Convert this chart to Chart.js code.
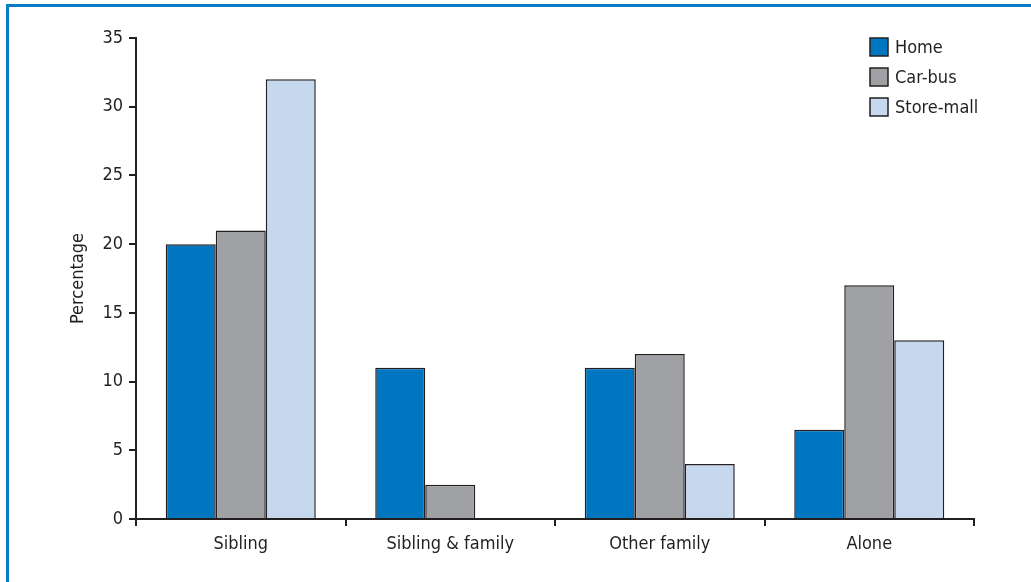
<!DOCTYPE html>
<html>
<head>
<meta charset="utf-8">
<script src="https://cdn.jsdelivr.net/npm/chart.js@4.4.0/dist/chart.umd.min.js"></script>
<style>
    html, body { margin: 0; padding: 0; background: #fff; }
    #wrap { position: relative; width: 1031px; height: 582px; }
    #frame {
        position: absolute; left: 6px; top: 4px; right: 0; bottom: 0;
        border-top: 3px solid #0a7bc6; border-left: 3px solid #0a7bc6;
        pointer-events: none;
    }
    canvas { position: absolute; left: 0; top: 0; }
</style>
</head>
<body>
<div id="wrap">
    <canvas id="chart" width="1031" height="582"></canvas>
    <div id="frame"></div>
</div>
<script>
// Datos del gráfico
const categories = ['Sibling', 'Sibling & family', 'Other family', 'Alone'];
const seriesNames = ['Home', 'Car-bus', 'Store-mall'];
const homeValues = [20, 11, 11, 6.5];
const carBusValues = [21, 2.5, 12, 17];
const storeMallValues = [32, 0, 4, 13];
const yTicks = [0, 5, 10, 15, 20, 25, 30, 35];

const colors = ['#0076c0', '#a0a1a5', '#c6d8ee'];
const ink = '#231f20';
const fontFamily = "'Liberation Sans Narrow', 'DejaVu Sans Condensed', 'Roboto', sans-serif";

// Leyenda vertical dentro del área del gráfico
const boxLegend = {
    id: 'boxLegend',
    afterDraw(chart) {
        const ctx = chart.ctx;
        ctx.save();
        chart.data.datasets.forEach((ds, i) => {
            const x = 870, y = 38 + i * 30;
            ctx.fillStyle = ds.backgroundColor;
            ctx.fillRect(x, y, 18, 18);
            ctx.strokeStyle = ink;
            ctx.lineWidth = 1.5;
            ctx.strokeRect(x, y, 18, 18);
            ctx.fillStyle = ink;
            ctx.font = '18px ' + fontFamily;
            ctx.textBaseline = 'middle';
            ctx.fillText(ds.label, x + 25, y + 10);
        });
        ctx.restore();
    }
};

const seriesData = [homeValues, carBusValues, storeMallValues];

new Chart(document.getElementById('chart').getContext('2d'), {
    type: 'bar',
    data: {
        labels: categories,
        datasets: seriesNames.map((name, i) => ({
            label: name,
            data: seriesData[i],
            backgroundColor: colors[i],
            borderColor: ink,
            borderWidth: 1.5,
            categoryPercentage: 0.716,
            barPercentage: 1.0
        }))
    },
    options: {
        responsive: false,
        animation: false,
        layout: { padding: { left: 68, top: 38, right: 57, bottom: 0 } },
        plugins: {
            legend: { display: false },
            tooltip: { enabled: false }
        },
        scales: {
            x: {
                grid: { display: true, drawOnChartArea: false, offset: true, tickLength: 7, color: ink, lineWidth: 2 },
                border: { display: true, color: ink, width: 2 },
                ticks: { color: ink, padding: 8, font: { family: fontFamily, size: 18 } },
                afterFit(scale) { scale.height = 582 - 519; }
            },
            y: {
                min: 0,
                max: 35,
                afterBuildTicks(scale) { scale.ticks = yTicks.map(v => ({ value: v })); },
                grid: { display: true, drawOnChartArea: false, tickLength: 7, color: ink, lineWidth: 2 },
                border: { display: true, color: ink, width: 2 },
                ticks: { color: ink, padding: 6, font: { family: fontFamily, size: 18 } },
                title: { display: true, text: 'Percentage', color: ink, padding: { top: 0, bottom: 0 }, font: { family: fontFamily, size: 18 } },
                afterFit(scale) { scale.width = 136 - 68; }
            }
        }
    },
    plugins: [boxLegend]
});
</script>
</body>
</html>
